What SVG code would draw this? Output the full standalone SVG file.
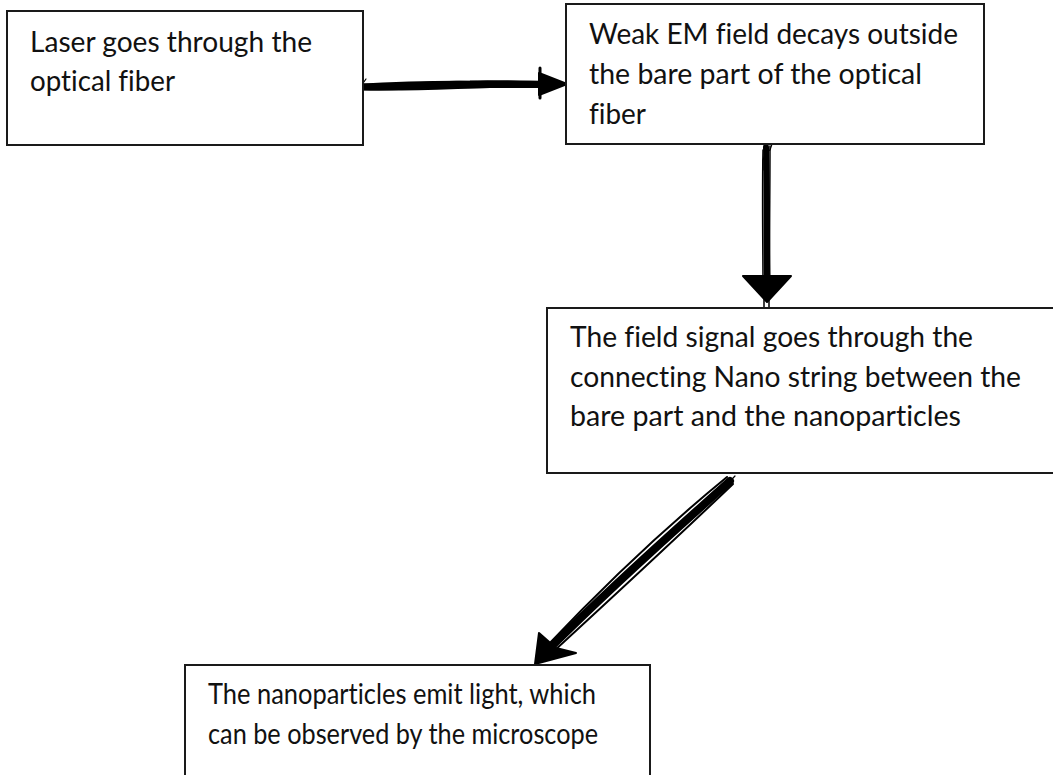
<svg xmlns="http://www.w3.org/2000/svg" width="1053" height="775" viewBox="0 0 1053 775">
<style>
.box{fill:#fff;stroke:#1a1a1a;stroke-width:2}
.t{font-family:Lato,"Open Sans","Liberation Sans",sans-serif;font-size:28px;fill:#111;font-variant-ligatures:none;font-feature-settings:"liga" 0}
.sk{fill:none;stroke:#000;stroke-linecap:round;stroke-linejoin:round}
.hd{fill:#000;stroke:#000;stroke-width:2;stroke-linejoin:round}
</style>
<rect width="1053" height="775" fill="#fff"/>
<g id="connectors">
 <g id="arrow1">
  <path class="sk" stroke-width="7" d="M356,87 C400,88 430,84 470,84 C500,83 520,85 545,84"/>
  <path class="sk" stroke-width="2" d="M354,85 C390,83 440,81 480,82 C510,81 530,82 546,82"/>
  <path class="sk" stroke-width="2" d="M357,89 C400,91 450,88 490,87 C515,87 530,87 546,87"/>
  <path class="sk" stroke-width="1.2" d="M361,86 L366,79"/>
  <path class="hd" d="M539,73 L567,84 L539,95 Z"/>
  <path class="sk" stroke-width="3" d="M540,68 L540,98"/>
 </g>
 <g id="arrow2">
  <path class="sk" stroke-width="6" d="M766,147 C767,190 766,240 767,285"/>
  <path class="sk" stroke-width="1.5" d="M763,150 C762,200 763,250 763,285"/>
  <path class="sk" stroke-width="1.5" d="M770,146 C770,200 769,250 770,285"/>
  <path class="sk" stroke-width="1.2" d="M763,170 L763,160 L766,152 L770,150 L772,144"/>
  <path class="hd" d="M743,276 L791,276 L767,302 Z"/>
  <path class="sk" stroke-width="1.5" d="M764,295 L764,308 M769,295 L769,308"/>
 </g>
 <g id="arrow3">
  <path class="sk" stroke-width="8" d="M730,481 C680,526 620,578 550,648"/>
  <path class="sk" stroke-width="2" d="M727,477 C672,522 612,577 547,646"/>
  <path class="sk" stroke-width="2" d="M733,484 C688,527 628,583 554,651"/>
  <path class="sk" stroke-width="1.2" d="M735,476 C720,492 712,500 705,507"/>
  <path class="hd" d="M539,633 L535,664 L576,653 L556,648 Z"/>
 </g>
</g>
<g id="node1">
 <rect class="box" x="7" y="11" width="356" height="134"/>
 <text class="t" x="30" y="52" textLength="282" lengthAdjust="spacingAndGlyphs">Laser goes through the</text>
 <text class="t" x="30" y="91" textLength="145" lengthAdjust="spacingAndGlyphs">optical fiber</text>
</g>
<g id="node2">
 <rect class="box" x="566" y="4" width="418" height="140"/>
 <text class="t" x="589" y="44" textLength="369" lengthAdjust="spacingAndGlyphs">Weak EM field decays outside</text>
 <text class="t" x="589" y="84" textLength="333" lengthAdjust="spacingAndGlyphs">the bare part of the optical</text>
 <text class="t" x="589" y="124" textLength="57" lengthAdjust="spacingAndGlyphs">fiber</text>
</g>
<g id="node3">
 <rect class="box" x="547" y="308" width="520" height="165"/>
 <text class="t" x="570" y="347" textLength="403" lengthAdjust="spacingAndGlyphs">The field signal goes through the</text>
 <text class="t" x="570" y="387" textLength="451" lengthAdjust="spacingAndGlyphs">connecting Nano string between the</text>
 <text class="t" x="570" y="426" textLength="391" lengthAdjust="spacingAndGlyphs">bare part and the nanoparticles</text>
</g>
<g id="node4">
 <rect class="box" x="185" y="665" width="465" height="130"/>
 <text class="t" x="208" y="704" textLength="388" lengthAdjust="spacingAndGlyphs">The nanoparticles emit light, which</text>
 <text class="t" x="208" y="744" textLength="390" lengthAdjust="spacingAndGlyphs">can be observed by the microscope</text>
</g>
</svg>
